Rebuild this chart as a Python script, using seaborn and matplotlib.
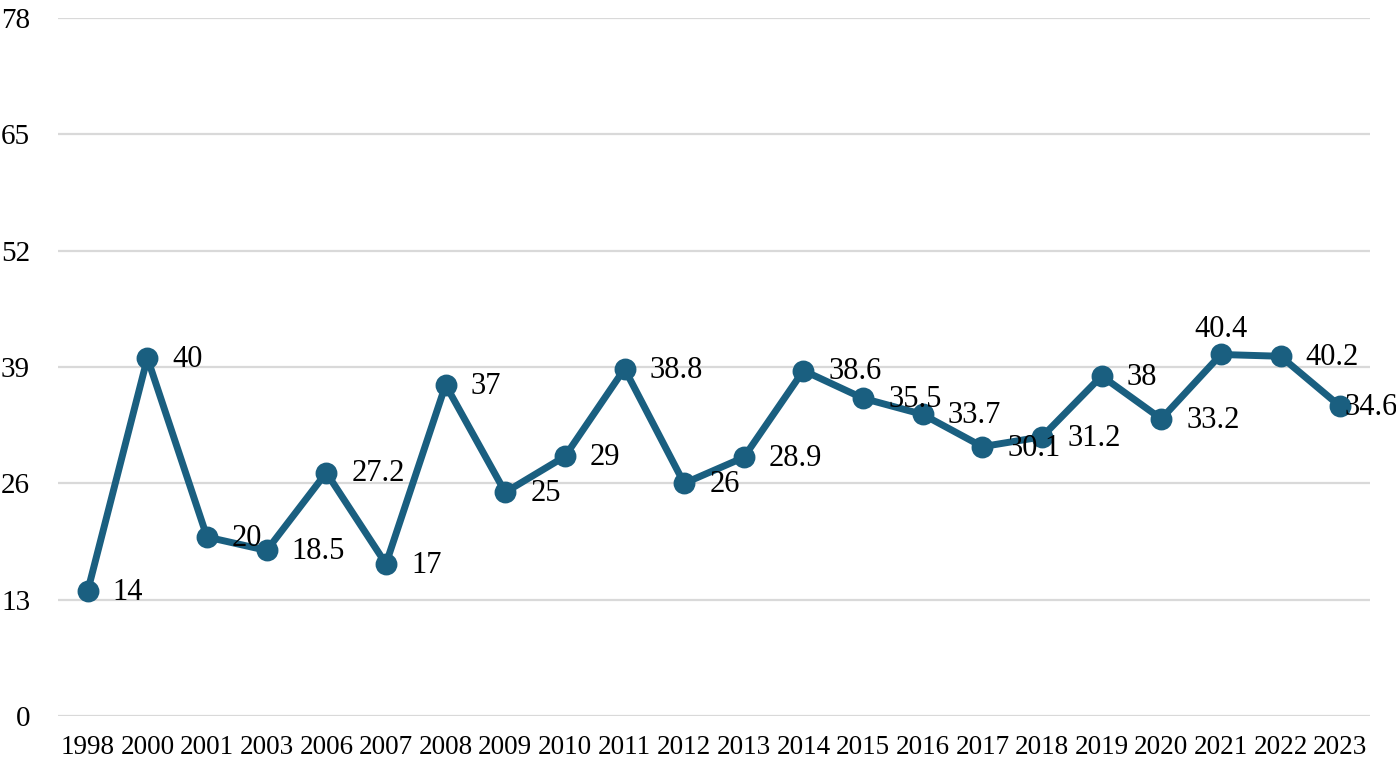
import numpy as np
import matplotlib
matplotlib.use("Agg")
import matplotlib.pyplot as plt
import pandas as pd
import seaborn as sns

years = ["1998", "2000", "2001", "2003", "2006", "2007", "2008", "2009", "2010", "2011", "2012",
         "2013", "2014", "2015", "2016", "2017", "2018", "2019", "2020", "2021", "2022", "2023"]
values = [14, 40, 20, 18.5, 27.2, 17, 37, 25, 29, 38.8, 26,
          28.9, 38.6, 35.5, 33.7, 30.1, 31.2, 38, 33.2, 40.4, 40.2, 34.6]
value_labels = ["14", "40", "20", "18.5", "27.2", "17", "37", "25", "29", "38.8", "26",
                "28.9", "38.6", "35.5", "33.7", "30.1", "31.2", "38", "33.2", "40.4", "40.2", "34.6"]
yticks = [0, 13, 26, 39, 52, 65, 78]

data = pd.DataFrame({"year": years, "value": values})

sns.set_style("white")
plt.rcParams["font.family"] = ["Liberation Serif", "DejaVu Serif"]
plt.rcParams["text.color"] = "black"
plt.rcParams["xtick.color"] = "black"
plt.rcParams["ytick.color"] = "black"

color = "#1a5f80"
fig = plt.figure(figsize=(13.96, 7.67), dpi=100)
ax = fig.add_axes([0.0415, 0.0665, 0.9399, 0.91])

sns.pointplot(data=data, x="year", y="value", color=color, markers="o",
              markersize=12, linewidth=5, errorbar=None, ax=ax)

for i, (v, lab) in enumerate(zip(values, value_labels)):
    if lab == "40.4":
        ax.annotate(lab, (i, v), xytext=(0, 18), textcoords="offset points",
                    ha="center", va="center", fontsize=22)
    elif i == len(values) - 1:
        ax.annotate(lab, (i, v), xytext=(3, -1), textcoords="offset points",
                    ha="left", va="center", fontsize=22)
    else:
        ax.annotate(lab, (i, v), xytext=(18, -1), textcoords="offset points",
                    ha="left", va="center", fontsize=22)

ax.set_ylim(0, 78)
ax.set_yticks(yticks)
ax.set_xlim(-0.5, len(years) - 0.5)
ax.yaxis.grid(True, color="#d9d9d9", linewidth=1.6)
ax.set_axisbelow(True)
for s in ax.spines.values():
    s.set_visible(False)
ax.tick_params(axis="y", length=0, pad=20, labelsize=21)
ax.tick_params(axis="x", length=0, pad=14, labelsize=19.5)
ax.set_xlabel("")
ax.set_ylabel("")

fig.savefig("out.png", dpi=100)
